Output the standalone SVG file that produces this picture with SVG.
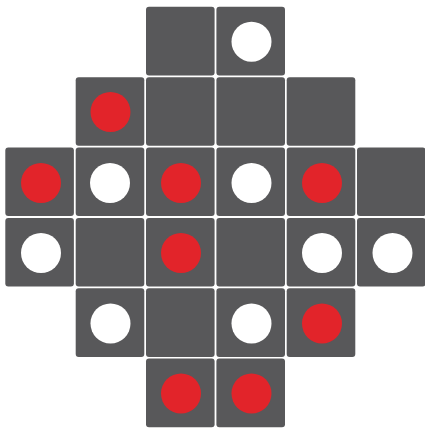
<svg xmlns="http://www.w3.org/2000/svg" width="425" height="428" viewBox="0 0 425 428">
<style>
.c{fill:#58585a}
.w{fill:#ffffff}
.r{fill:#e2242a}
</style>
<defs>
<rect id="cell" class="c" x="0" y="0" width="68.6" height="68.6" rx="3"/>
</defs>
<rect width="425" height="428" fill="#ffffff"/>
<g id="r0c2"><use href="#cell" x="146" y="6.8"/></g>
<g id="r0c3"><use href="#cell" x="216.4" y="6.8"/><circle class="w" cx="251.5" cy="41.7" r="20"/></g>
<g id="r1c1"><use href="#cell" x="75.7" y="77.2"/><circle class="r" cx="110.5" cy="112" r="20"/></g>
<g id="r1c2"><use href="#cell" x="146" y="77.2"/></g>
<g id="r1c3"><use href="#cell" x="216.4" y="77.2"/></g>
<g id="r1c4"><use href="#cell" x="286.7" y="77.2"/></g>
<g id="r2c0"><use href="#cell" x="5.3" y="147.5"/><circle class="r" cx="41" cy="183" r="20"/></g>
<g id="r2c1"><use href="#cell" x="75.7" y="147.5"/><circle class="w" cx="110" cy="183" r="20"/></g>
<g id="r2c2"><use href="#cell" x="146" y="147.5"/><circle class="r" cx="181" cy="183" r="20"/></g>
<g id="r2c3"><use href="#cell" x="216.4" y="147.5"/><circle class="w" cx="251.5" cy="183" r="20"/></g>
<g id="r2c4"><use href="#cell" x="286.7" y="147.5"/><circle class="r" cx="322" cy="183" r="20"/></g>
<g id="r2c5"><use href="#cell" x="357" y="147.5"/></g>
<g id="r3c0"><use href="#cell" x="5.3" y="217.9"/><circle class="w" cx="41" cy="253" r="20"/></g>
<g id="r3c1"><use href="#cell" x="75.7" y="217.9"/></g>
<g id="r3c2"><use href="#cell" x="146" y="217.9"/><circle class="r" cx="181" cy="253" r="20"/></g>
<g id="r3c3"><use href="#cell" x="216.4" y="217.9"/></g>
<g id="r3c4"><use href="#cell" x="286.7" y="217.9"/><circle class="w" cx="322" cy="253" r="20"/></g>
<g id="r3c5"><use href="#cell" x="357" y="217.9"/><circle class="w" cx="392.5" cy="253" r="20"/></g>
<g id="r4c1"><use href="#cell" x="75.7" y="288.3"/><circle class="w" cx="110.5" cy="323.5" r="20"/></g>
<g id="r4c2"><use href="#cell" x="146" y="288.3"/></g>
<g id="r4c3"><use href="#cell" x="216.4" y="288.3"/><circle class="w" cx="251.5" cy="323.5" r="20"/></g>
<g id="r4c4"><use href="#cell" x="286.7" y="288.3"/><circle class="r" cx="322" cy="323.5" r="20"/></g>
<g id="r5c2"><use href="#cell" x="146" y="358.6"/><circle class="r" cx="181" cy="393.5" r="20"/></g>
<g id="r5c3"><use href="#cell" x="216.4" y="358.6"/><circle class="r" cx="251.5" cy="393.5" r="20"/></g>
<g id="connectors"></g>
</svg>
